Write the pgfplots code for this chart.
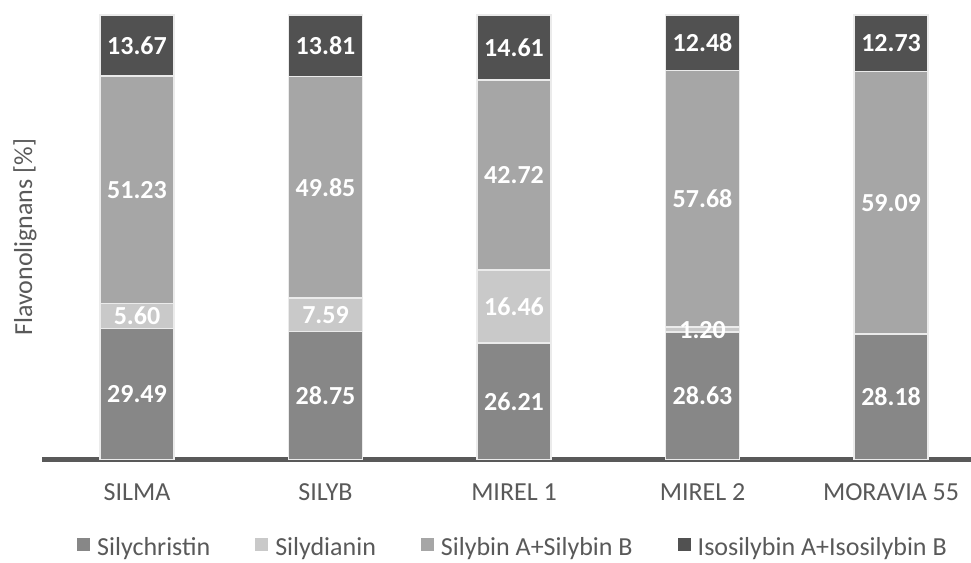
\documentclass[border=0pt]{standalone}
\usepackage{pgfplots}
\usepackage{pgfplotstable}
\pgfplotsset{compat=1.18}
\usepackage{fontspec}
\setmainfont{Carlito}

\definecolor{cSc}{HTML}{878787}
\definecolor{cSd}{HTML}{C9C9C9}
\definecolor{cSb}{HTML}{A6A6A6}
\definecolor{cIso}{HTML}{515151}
\definecolor{txt}{HTML}{595959}

% flavonolignan composition (%) of each preparation
\pgfplotstableread{
x sc    sd    sb    iso
0 29.49 5.60  51.23 13.67
1 28.75 7.59  49.85 13.81
2 26.21 16.46 42.72 14.61
3 28.63 1.20  57.68 12.48
4 28.18 0.00  59.09 12.73
}\flavdata

\newcommand{\lblfont}{\fontsize{26bp}{31bp}\selectfont}

\begin{document}
\begin{tikzpicture}
\path[use as bounding box] (-42bp,-103.5bp) rectangle (929bp,459.5bp);
\begin{axis}[
  at={(0,0)}, anchor=south west,
  scale only axis, width=929bp, height=444.5bp,
  ybar stacked, bar width=74bp,
  xmin=-0.504, xmax=4.424, ymin=0, ymax=100,
  axis x line*=bottom, axis y line=none,
  x axis line style={line width=4.5bp, color=txt, -},
  xtick={0,1,2,3,4},
  xticklabels={SILMA,SILYB,MIREL 1,MIREL 2,MORAVIA 55},
  major tick length=0pt,
  xticklabel style={anchor=base, yshift=-40.5bp, font=\lblfont, text=txt},
  clip=false,
  every axis plot/.append style={draw=white!92!black, line width=1.5bp},
  point meta=explicit symbolic,
  nodes near coords={\ifdim\pgfplotspointmeta pt>0.5pt\pgfplotspointmeta\fi},
  every node near coord/.append style={anchor=center, text=white,
      font=\lblfont\bfseries},
  legend style={at={(0.507,-0.198)}, anchor=center, draw=none, fill=none,
      legend columns=-1, font=\lblfont, text=txt,
      /tikz/every odd column/.append style={column sep=5bp},
      /tikz/every even column/.append style={column sep=43bp}},
  legend image code/.code={\fill[#1,draw=none] (0bp,-3bp) rectangle (13bp,10bp);},
]
\addplot[fill=cSc]  table[x=x, y=sc,  meta=sc]  {\flavdata};
\addplot[fill=cSd]  table[x=x, y=sd,  meta=sd]  {\flavdata};
\addplot[fill=cSb]  table[x=x, y=sb,  meta=sb]  {\flavdata};
\addplot[fill=cIso] table[x=x, y=iso, meta=iso] {\flavdata};
\legend{Silychristin, Silydianin, Silybin A+Silybin B, Isosilybin A+Isosilybin B}
\end{axis}
\node[rotate=90, font=\lblfont, text=txt] at (-17bp,222.25bp) {Flavonolignans [\%]};
\end{tikzpicture}
\end{document}
